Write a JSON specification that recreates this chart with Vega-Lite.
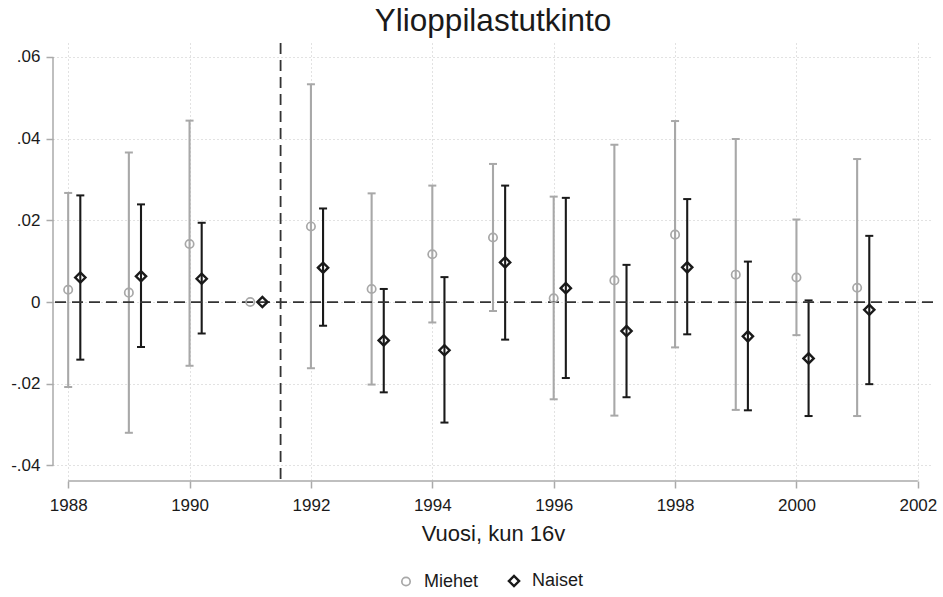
{
  "$schema": "https://vega.github.io/schema/vega-lite/v6.json",
  "width": 880,
  "height": 438,
  "autosize": {"type": "none"},
  "padding": {"left": 53, "top": 43, "right": 10, "bottom": 116},
  "background": "white",
  "title": {"text": "Ylioppilastutkinto", "fontSize": 31.5, "fontWeight": "normal", "color": "#1a1a1a", "anchor": "middle", "offset": 5},
  "data": {
    "values": [
      {"year": 1988, "sex": "Miehet", "est": 0.0030, "hi": 0.0267, "lo": -0.0208},
      {"year": 1988, "sex": "Naiset", "est": 0.0060, "hi": 0.0261, "lo": -0.0141},
      {"year": 1989, "sex": "Miehet", "est": 0.0023, "hi": 0.0366, "lo": -0.0320},
      {"year": 1989, "sex": "Naiset", "est": 0.0063, "hi": 0.0239, "lo": -0.0110},
      {"year": 1990, "sex": "Miehet", "est": 0.0142, "hi": 0.0444, "lo": -0.0156},
      {"year": 1990, "sex": "Naiset", "est": 0.0057, "hi": 0.0194, "lo": -0.0077},
      {"year": 1991, "sex": "Miehet", "est": 0.0, "hi": null, "lo": null},
      {"year": 1991, "sex": "Naiset", "est": 0.0, "hi": null, "lo": null},
      {"year": 1992, "sex": "Miehet", "est": 0.0185, "hi": 0.0533, "lo": -0.0162},
      {"year": 1992, "sex": "Naiset", "est": 0.0084, "hi": 0.0229, "lo": -0.0058},
      {"year": 1993, "sex": "Miehet", "est": 0.0032, "hi": 0.0266, "lo": -0.0202},
      {"year": 1993, "sex": "Naiset", "est": -0.0094, "hi": 0.0032, "lo": -0.0221},
      {"year": 1994, "sex": "Miehet", "est": 0.0117, "hi": 0.0285, "lo": -0.0050},
      {"year": 1994, "sex": "Naiset", "est": -0.0118, "hi": 0.0061, "lo": -0.0295},
      {"year": 1995, "sex": "Miehet", "est": 0.0158, "hi": 0.0338, "lo": -0.0022},
      {"year": 1995, "sex": "Naiset", "est": 0.0097, "hi": 0.0285, "lo": -0.0092},
      {"year": 1996, "sex": "Miehet", "est": 0.0009, "hi": 0.0258, "lo": -0.0238},
      {"year": 1996, "sex": "Naiset", "est": 0.0034, "hi": 0.0255, "lo": -0.0186},
      {"year": 1997, "sex": "Miehet", "est": 0.0053, "hi": 0.0385, "lo": -0.0278},
      {"year": 1997, "sex": "Naiset", "est": -0.0071, "hi": 0.0091, "lo": -0.0233},
      {"year": 1998, "sex": "Miehet", "est": 0.0165, "hi": 0.0443, "lo": -0.0111},
      {"year": 1998, "sex": "Naiset", "est": 0.0085, "hi": 0.0252, "lo": -0.0079},
      {"year": 1999, "sex": "Miehet", "est": 0.0067, "hi": 0.0399, "lo": -0.0264},
      {"year": 1999, "sex": "Naiset", "est": -0.0084, "hi": 0.0099, "lo": -0.0265},
      {"year": 2000, "sex": "Miehet", "est": 0.0060, "hi": 0.0202, "lo": -0.0081},
      {"year": 2000, "sex": "Naiset", "est": -0.0138, "hi": 0.0004, "lo": -0.0279},
      {"year": 2001, "sex": "Miehet", "est": 0.0035, "hi": 0.0350, "lo": -0.0279},
      {"year": 2001, "sex": "Naiset", "est": -0.0019, "hi": 0.0162, "lo": -0.0201}
    ]
  },
  "transform": [
    {"calculate": "datum.year + (datum.sex === 'Naiset' ? 0.2 : 0)", "as": "xpos"},
    {"calculate": "datum.xpos - 0.066", "as": "capL"},
    {"calculate": "datum.xpos + 0.066", "as": "capR"}
  ],
  "layer": [
    {
      "transform": [{"filter": "datum.lo != null"}],
      "mark": {"type": "rule", "strokeWidth": 2.1},
      "encoding": {
        "x": {
          "field": "xpos", "type": "quantitative",
          "scale": {"domain": [1987.75, 2002.25], "nice": false, "zero": false},
          "axis": {
            "values": [1988, 1990, 1992, 1994, 1996, 1998, 2000, 2002],
            "format": "d",
            "title": "Vuosi, kun 16v",
            "labelPadding": 9,
            "titlePadding": 10
          }
        },
        "y": {
          "field": "lo", "type": "quantitative",
          "scale": {"domain": [-0.0438, 0.0634], "nice": false, "zero": false},
          "axis": {
            "values": [-0.04, -0.02, 0, 0.02, 0.04, 0.06],
            "labelExpr": "datum.value == 0 ? '0' : replace(replace(format(datum.value, '.2f'), '\u2212', '-'), '0.', '.')",
            "title": null,
            "labelPadding": 6
          }
        },
        "y2": {"field": "hi"},
        "color": {"field": "sex", "type": "nominal", "scale": {"domain": ["Miehet", "Naiset"], "range": ["#a8a8a8", "#1a1a1a"]}}
      }
    },
    {
      "transform": [{"filter": "datum.lo != null"}],
      "mark": {"type": "rule", "strokeWidth": 2},
      "encoding": {
        "x": {"field": "capL", "type": "quantitative"},
        "x2": {"field": "capR"},
        "y": {"field": "lo", "type": "quantitative"},
        "color": {"field": "sex", "type": "nominal"}
      }
    },
    {
      "transform": [{"filter": "datum.hi != null"}],
      "mark": {"type": "rule", "strokeWidth": 2},
      "encoding": {
        "x": {"field": "capL", "type": "quantitative"},
        "x2": {"field": "capR"},
        "y": {"field": "hi", "type": "quantitative"},
        "color": {"field": "sex", "type": "nominal"}
      }
    },
    {
      "data": {"values": [{}]},
      "mark": {"type": "rule", "color": "#333333", "strokeWidth": 1.8, "strokeDash": [11, 6]},
      "encoding": {"y": {"datum": 0}}
    },
    {
      "data": {"values": [{}]},
      "mark": {"type": "rule", "color": "#333333", "strokeWidth": 1.8, "strokeDash": [11, 6]},
      "encoding": {"x": {"datum": 1991.5}}
    },
    {
      "data": {"values": [{}]},
      "mark": {"type": "rule", "color": "#aaaaaa", "strokeWidth": 1.5},
      "encoding": {"x": {"datum": 1987.75}, "y": {"datum": -0.04}, "y2": {"datum": 0.06}}
    },
    {
      "data": {"values": [{}]},
      "mark": {"type": "rule", "color": "#aaaaaa", "strokeWidth": 1.5},
      "encoding": {"y": {"datum": -0.0438}, "x": {"datum": 1988}, "x2": {"datum": 2002}}
    },
    {
      "mark": {"type": "point", "filled": false, "opacity": 1},
      "encoding": {
        "x": {"field": "xpos", "type": "quantitative"},
        "y": {"field": "est", "type": "quantitative"},
        "color": {"field": "sex", "type": "nominal", "legend": {"orient": "none", "legendX": 344, "legendY": 529, "direction": "horizontal", "title": null, "labelOffset": 9, "columnPadding": 25, "encode": {"symbols": {"update": {"fill": {"value": "transparent"}, "opacity": {"value": 1}}}}}},
        "shape": {"field": "sex", "type": "nominal", "scale": {"domain": ["Miehet", "Naiset"], "range": ["circle", "diamond"]}, "legend": {"orient": "none", "legendX": 344, "legendY": 529, "direction": "horizontal", "title": null, "encode": {"symbols": {"update": {"fill": {"value": "transparent"}, "opacity": {"value": 1}}}}}},
        "size": {"field": "sex", "type": "nominal", "scale": {"domain": ["Miehet", "Naiset"], "range": [70, 105]}, "legend": {"orient": "none", "legendX": 344, "legendY": 529, "direction": "horizontal", "title": null, "encode": {"symbols": {"update": {"fill": {"value": "transparent"}, "opacity": {"value": 1}}}}}},
        "strokeWidth": {"field": "sex", "type": "nominal", "scale": {"domain": ["Miehet", "Naiset"], "range": [1.7, 2.4]}, "legend": {"orient": "none", "legendX": 344, "legendY": 529, "direction": "horizontal", "title": null, "encode": {"symbols": {"update": {"fill": {"value": "transparent"}, "opacity": {"value": 1}}}}}}
      }
    }
  ],
  "config": {
    "font": "Liberation Sans",
    "view": {"stroke": null},
    "axis": {
      "domain": false,
      "tickSize": 7, "tickColor": "#aaaaaa", "tickWidth": 1.5,
      "labelFontSize": 17, "labelColor": "#1a1a1a",
      "grid": true, "gridDash": [1, 3], "gridColor": "#c4c4c4", "gridWidth": 1,
      "titleFontSize": 22, "titleFontWeight": "normal", "titleColor": "#1a1a1a"
    },
    "legend": {
      "labelFontSize": 18, "labelColor": "#1a1a1a",
      "labelOffset": 9, "columnPadding": 25
    }
  }
}
